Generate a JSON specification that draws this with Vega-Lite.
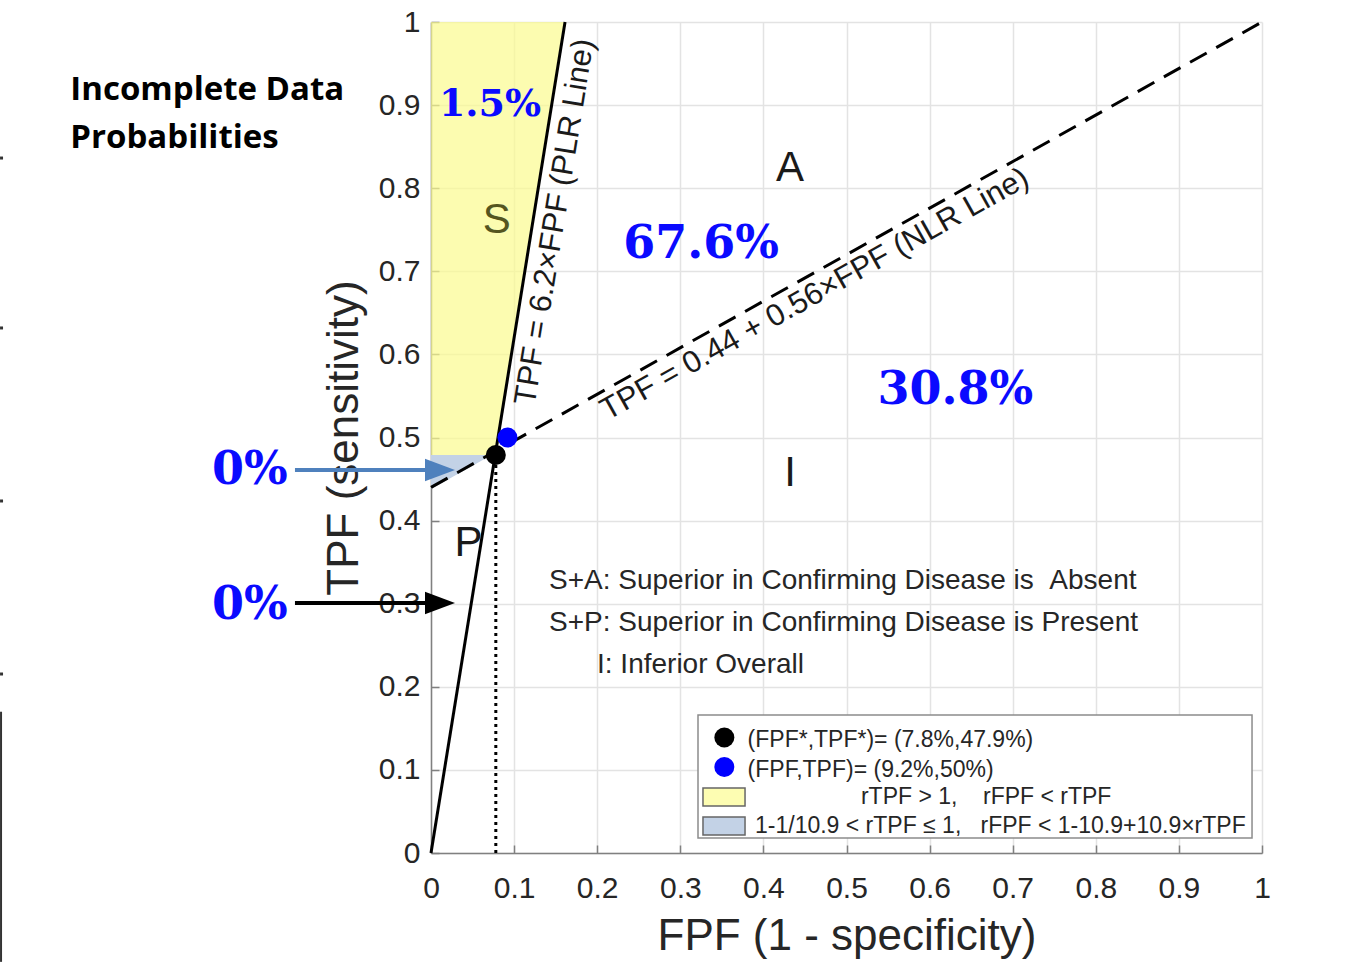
{
  "$schema": "https://vega.github.io/schema/vega-lite/v6.json",
  "width": 831,
  "height": 831,
  "autosize": {"type": "none"},
  "padding": {"left": 431, "top": 22, "right": 95, "bottom": 109},
  "background": "white",
  "config": {"view": {"stroke": null}, "font": "Liberation Sans"},
  "encoding": {
    "x": {
      "field": "x", "type": "quantitative",
      "scale": {"domain": [0, 1], "nice": false, "zero": false},
      "axis": {
        "values": [0, 0.1, 0.2, 0.3, 0.4, 0.5, 0.6, 0.7, 0.8, 0.9, 1],
        "format": "~g", "grid": true, "gridColor": "#e3e3e3", "gridWidth": 1.5,
        "domainColor": "#808080", "domainWidth": 1.5, "tickColor": "#808080", "tickSize": -8, "tickWidth": 1.5,
        "labelFontSize": 30, "labelColor": "#262626", "labelPadding": 28, "labelOverlap": false, "labelFlush": false,
        "title": "FPF (1 - specificity)", "titleFontSize": 44, "titleFontWeight": "normal", "titleColor": "#262626", "titlePadding": 11
      }
    },
    "y": {
      "field": "y", "type": "quantitative",
      "scale": {"domain": [0, 1], "nice": false, "zero": false},
      "axis": {
        "values": [0, 0.1, 0.2, 0.3, 0.4, 0.5, 0.6, 0.7, 0.8, 0.9, 1],
        "format": "~g", "grid": true, "gridColor": "#e3e3e3", "gridWidth": 1.5,
        "domainColor": "#808080", "domainWidth": 1.5, "tickColor": "#808080", "tickSize": -8, "tickWidth": 1.5,
        "labelFontSize": 30, "labelColor": "#262626", "labelPadding": 19, "labelOverlap": false, "labelFlush": false,
        "title": "TPF (sensitivity)", "titleFontSize": 44, "titleFontWeight": "normal", "titleColor": "#262626", "titlePadding": 12
      }
    }
  },
  "layer": [
    {
      "data": {"values": [
        {"x": 0, "y": 0.479, "y2": 1},
        {"x": 0.0773, "y": 0.479, "y2": 1},
        {"x": 0.1613, "y": 1, "y2": 1}
      ]},
      "mark": {"type": "area", "color": "#fbfb8f", "opacity": 0.7},
      "encoding": {"y2": {"field": "y2"}}
    },
    {
      "data": {"values": [
        {"x": 0, "y": 0.438, "y2": 0.479},
        {"x": 0.073, "y": 0.479, "y2": 0.479}
      ]},
      "mark": {"type": "area", "color": "#c3d2e6", "opacity": 1},
      "encoding": {"y2": {"field": "y2"}}
    },
    {
      "data": {"values": [{"x": 0, "y": 0}, {"x": 0.1613, "y": 1}]},
      "mark": {"type": "line", "color": "#000000", "strokeWidth": 3},
      "encoding": {}
    },
    {
      "data": {"values": [{"x": 0, "y": 0.44}, {"x": 1, "y": 1}]},
      "mark": {"type": "line", "color": "#000000", "strokeWidth": 3, "strokeDash": [19, 11]},
      "encoding": {}
    },
    {
      "data": {"values": [{"x": 0.078, "y": 0, "y2": 0.479}]},
      "mark": {"type": "rule", "color": "#000000", "strokeWidth": 3, "strokeDash": [3, 4]},
      "encoding": {"y2": {"field": "y2"}}
    },
    {
      "data": {"values": [{"x": 0.3213, "x2": 0.988, "y": 0.166, "y2": 0.018}]},
      "mark": {"type": "rect", "fill": "#ffffff", "stroke": "#8c8c8c", "strokeWidth": 1.5},
      "encoding": {"x2": {"field": "x2"}, "y2": {"field": "y2"}}
    },
    {
      "data": {"values": [{"x": 0.3273, "x2": 0.3779, "y": 0.0782, "y2": 0.0566}]},
      "mark": {"type": "rect", "fill": "#fdfdb2", "stroke": "#666666", "strokeWidth": 1.5},
      "encoding": {"x2": {"field": "x2"}, "y2": {"field": "y2"}}
    },
    {
      "data": {"values": [{"x": 0.3273, "x2": 0.3779, "y": 0.0433, "y2": 0.0217}]},
      "mark": {"type": "rect", "fill": "#c3d2e6", "stroke": "#666666", "strokeWidth": 1.5},
      "encoding": {"x2": {"field": "x2"}, "y2": {"field": "y2"}}
    },
    {
      "data": {"values": [{"x": 0.078, "y": 0.479}, {"x": 0.353, "y": 0.139}]},
      "mark": {"type": "point", "filled": true, "color": "#000000", "opacity": 1, "size": 400, "shape": "circle"}
    },
    {
      "data": {"values": [{"x": 0.092, "y": 0.5}, {"x": 0.353, "y": 0.1035}]},
      "mark": {"type": "point", "filled": true, "color": "#0000ff", "opacity": 1, "size": 400, "shape": "circle"}
    },
    {
      "data": {"values": [{"x": -0.1637, "x2": 0.0, "y": 0.4609}]},
      "mark": {"type": "rule", "color": "#4f81bd", "strokeWidth": 4},
      "encoding": {"x2": {"field": "x2"}}
    },
    {
      "data": {"values": [{"x": 0.0108, "y": 0.4609}]},
      "mark": {"type": "point", "filled": true, "color": "#4f81bd", "opacity": 1, "size": 900, "shape": "M -1 -0.75 L 1 0 L -1 0.75 Z"}
    },
    {
      "data": {"values": [{"x": -0.1637, "x2": 0.0, "y": 0.3008}]},
      "mark": {"type": "rule", "color": "#000000", "strokeWidth": 4},
      "encoding": {"x2": {"field": "x2"}}
    },
    {
      "data": {"values": [{"x": 0.0108, "y": 0.3008}]},
      "mark": {"type": "point", "filled": true, "color": "#000000", "opacity": 1, "size": 900, "shape": "M -1 -0.75 L 1 0 L -1 0.75 Z"}
    },
    {
      "data": {"values": [{"x": -0.5174, "y": 0.17, "y2": -0.131}]},
      "mark": {"type": "rule", "color": "#333333", "strokeWidth": 2},
      "encoding": {"y2": {"field": "y2"}}
    },
    {
      "data": {"values": [
        {"x": -0.5186, "x2": -0.5150, "y": 0.8363},
        {"x": -0.5186, "x2": -0.5150, "y": 0.6318},
        {"x": -0.5186, "x2": -0.5150, "y": 0.4236},
        {"x": -0.5186, "x2": -0.5150, "y": 0.2154}
      ]},
      "mark": {"type": "rule", "color": "#333333", "strokeWidth": 3},
      "encoding": {"x2": {"field": "x2"}}
    },
    {
      "data": {"values": [
        {"x": 0.381, "y": 0.1365, "t": "(FPF*,TPF*)= (7.8%,47.9%)"},
        {"x": 0.381, "y": 0.0999, "t": "(FPF,TPF)= (9.2%,50%)"},
        {"x": 0.5174, "y": 0.0674, "t": "rTPF > 1,\u00a0\u00a0\u00a0\u00a0rFPF < rTPF"},
        {"x": 0.3899, "y": 0.0325, "t": "1-1/10.9 < rTPF \u2264 1,\u00a0\u00a0\u00a0rFPF < 1-10.9+10.9\u00d7rTPF"}
      ]},
      "mark": {"type": "text", "align": "left", "baseline": "middle", "fontSize": 23, "color": "#262626"},
      "encoding": {"text": {"field": "t"}}
    },
    {
      "data": {"values": [
        {"x": 0.142, "y": 0.3273, "t": "S+A: Superior in Confirming Disease is\u00a0\u00a0Absent"},
        {"x": 0.142, "y": 0.2768, "t": "S+P: Superior in Confirming Disease is Present"},
        {"x": 0.1998, "y": 0.2262, "t": "I: Inferior Overall"}
      ]},
      "mark": {"type": "text", "align": "left", "baseline": "middle", "fontSize": 28, "color": "#262626"},
      "encoding": {"text": {"field": "t"}}
    },
    {
      "data": {"values": [
        {"x": 0.432, "y": 0.824, "t": "A"},
        {"x": 0.432, "y": 0.457, "t": "I"},
        {"x": 0.045, "y": 0.373, "t": "P"}
      ]},
      "mark": {"type": "text", "align": "center", "baseline": "middle", "fontSize": 42, "color": "#1a1a1a"},
      "encoding": {"text": {"field": "t"}}
    },
    {
      "data": {"values": [{"x": 0.079, "y": 0.762, "t": "S"}]},
      "mark": {"type": "text", "align": "center", "baseline": "middle", "fontSize": 42, "color": "#55551f"},
      "encoding": {"text": {"field": "t"}}
    },
    {
      "data": {"values": [{"x": 0.1495, "y": 0.7593, "t": "TPF = 6.2\u00d7FPF (PLR Line)"}]},
      "mark": {"type": "text", "align": "center", "baseline": "middle", "fontSize": 31, "angle": 279.2, "color": "#1a1a1a"},
      "encoding": {"text": {"field": "t"}}
    },
    {
      "data": {"values": [{"x": 0.462, "y": 0.672, "t": "TPF = 0.44 + 0.56\u00d7FPF (NLR Line)"}]},
      "mark": {"type": "text", "align": "center", "baseline": "middle", "fontSize": 31, "angle": 330.8, "color": "#1a1a1a"},
      "encoding": {"text": {"field": "t"}}
    },
    {
      "data": {"values": [
        {"x": 0.325, "y": 0.733, "t": "67.6%"},
        {"x": 0.631, "y": 0.557, "t": "30.8%"},
        {"x": -0.218, "y": 0.461, "t": "0%"},
        {"x": -0.218, "y": 0.298, "t": "0%"}
      ]},
      "mark": {"type": "text", "align": "center", "baseline": "middle", "fontSize": 46, "font": "DejaVu Serif", "fontWeight": "bold", "color": "#0a0aff"},
      "encoding": {"text": {"field": "t"}}
    },
    {
      "data": {"values": [{"x": 0.071, "y": 0.9, "t": "1.5%"}]},
      "mark": {"type": "text", "align": "center", "baseline": "middle", "fontSize": 38, "font": "DejaVu Serif", "fontWeight": "bold", "color": "#0a0aff"},
      "encoding": {"text": {"field": "t"}}
    },
    {
      "data": {"values": [
        {"x": -0.434, "y": 0.918, "t": "Incomplete Data"},
        {"x": -0.434, "y": 0.861, "t": "Probabilities"}
      ]},
      "mark": {"type": "text", "align": "left", "baseline": "middle", "fontSize": 33, "font": "Open Sans", "fontWeight": "bold", "color": "#000000"},
      "encoding": {"text": {"field": "t"}}
    }
  ]
}
